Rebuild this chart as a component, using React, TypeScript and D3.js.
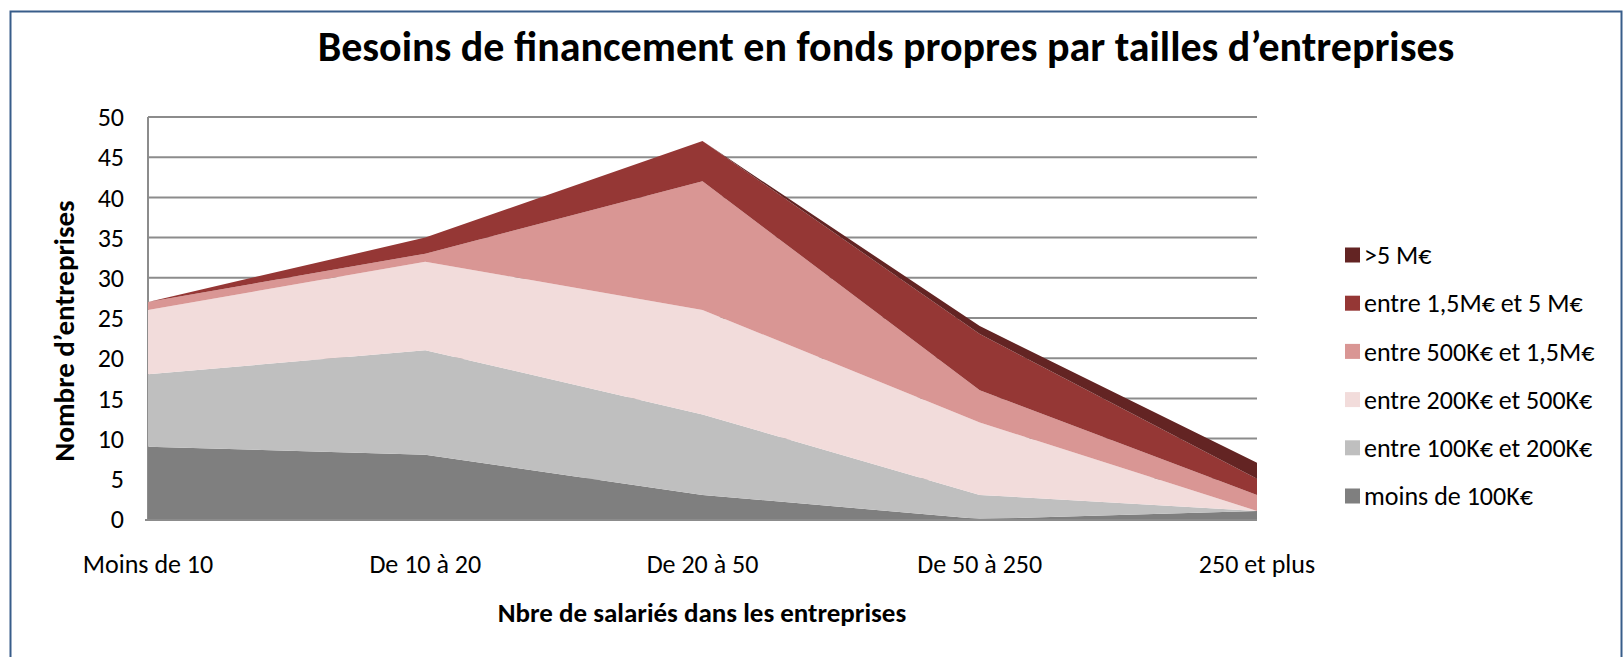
import React from "react";
import * as d3 from "d3";

const categories = ["Moins de 10", "De 10 à 20", "De 20 à 50", "De 50 à 250", "250 et plus"];
const seriesNames = [
  "moins de 100K€",
  "entre 100K€ et 200K€",
  "entre 200K€ et 500K€",
  "entre 500K€ et 1,5M€",
  "entre 1,5M€ et 5 M€",
  ">5 M€",
];
const moins100K = [9, 8, 3, 0, 1];
const k100to200 = [9, 13, 10, 3, 0];
const k200to500 = [8, 11, 13, 9, 0];
const k500to1500 = [1, 1, 16, 4, 2];
const m15to5 = [0, 2, 5, 7, 2];
const plus5M = [0, 0, 0, 1, 2];
const seriesValues = [moins100K, k100to200, k200to500, k500to1500, m15to5, plus5M];
const colors = ["#7F7F7F", "#BFBFBF", "#F2DCDB", "#D99694", "#953735", "#632423"];
const yTicks = [0, 5, 10, 15, 20, 25, 30, 35, 40, 45, 50];

const FONT = "Carlito, Calibri, Lato, 'Open Sans', sans-serif";

export default function App() {
  const W = 1624, H = 657;
  const x0 = 148, x1 = 1257, yTop = 117, yBot = 519;
  const x = d3.scalePoint<string>().domain(categories).range([x0, x1]);
  const y = d3.scaleLinear().domain([0, 50]).range([yBot, yTop]);

  const table = categories.map((c, i) => {
    const row: any = { cat: c };
    seriesNames.forEach((s, j) => (row[s] = seriesValues[j][i]));
    return row;
  });
  const stacked = d3.stack<any>().keys(seriesNames)(table);
  const area = d3
    .area<any>()
    .x((d) => x(d.data.cat) as number)
    .y0((d) => y(d[0]))
    .y1((d) => y(d[1]));

  const legendOrder = [...seriesNames].reverse();
  const legendColors = [...colors].reverse();

  return (
    <svg
      width={W}
      height={H}
      style={{ position: "absolute", left: 0, top: 0, background: "#fff" }}
      fontFamily={FONT}
    >
      <rect x={0} y={0} width={W} height={H} fill="#fff" />
      <rect x={10.5} y={11.5} width={1611} height={700} fill="none" stroke="#385D8A" strokeWidth={2} />
      <text x={886} y={61} textAnchor="middle" fontSize={42} fontWeight="bold" fill="#000">
        Besoins de financement en fonds propres par tailles d’entreprises
      </text>

      {yTicks.map((t) => (
        <g key={t}>
          <line x1={x0} x2={x1} y1={y(t)} y2={y(t)} stroke="#8C8C8C" strokeWidth={2} />
          <text x={124} y={y(t)} dy="0.35em" textAnchor="end" fontSize={26} fill="#000">
            {t}
          </text>
        </g>
      ))}
      <line x1={x0} x2={x0} y1={yTop} y2={yBot} stroke="#8C8C8C" strokeWidth={2} />

      {stacked.map((s, i) => (
        <path key={s.key} d={area(s) as string} fill={colors[i]} />
      ))}
      <line x1={x0 - 3} x2={x1} y1={yBot + 1} y2={yBot + 1} stroke="#8C8C8C" strokeWidth={2} />

      {categories.map((c) => (
        <text key={c} x={x(c)} y={573} textAnchor="middle" fontSize={26} fill="#000">
          {c}
        </text>
      ))}

      <text x={702} y={622} textAnchor="middle" fontSize={27} fontWeight="bold" fill="#000">
        Nbre de salariés dans les entreprises
      </text>
      <text
        transform={`translate(74,331) rotate(-90)`}
        textAnchor="middle"
        fontSize={29}
        fontWeight="bold"
        fill="#000"
      >
        Nombre d’entreprises
      </text>

      {legendOrder.map((name, i) => {
        const cy = 255 + i * 48.2;
        return (
          <g key={name}>
            <rect x={1345} y={cy - 7.5} width={15} height={15} fill={legendColors[i]} />
            <text x={1364} y={cy} dy="0.35em" fontSize={26} fill="#000">
              {name}
            </text>
          </g>
        );
      })}
    </svg>
  );
}
